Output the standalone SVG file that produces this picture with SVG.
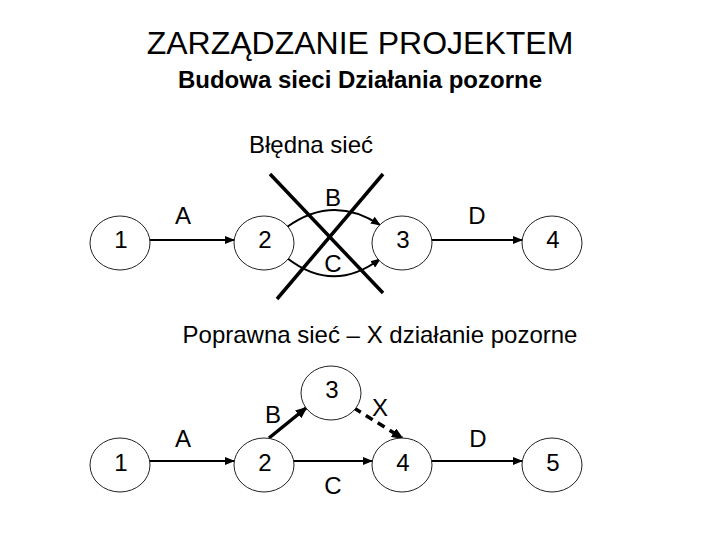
<svg xmlns="http://www.w3.org/2000/svg" width="720" height="540" viewBox="0 0 720 540">
<style>
text{font-family:"Liberation Sans",Arial,sans-serif;fill:#000;text-anchor:middle;font-size:24px}
.title{font-size:32px}
.sub{font-weight:bold}
.node ellipse{fill:#fff;stroke:#222;stroke-width:1}
.edge{fill:none;stroke:#000;stroke-width:2}
.thick{fill:none;stroke:#000;stroke-width:3.5}
.dash{fill:none;stroke:#000;stroke-width:3.5;stroke-dasharray:8 6}
.cross{fill:none;stroke:#000;stroke-width:3.5}
</style>
<defs>
<marker id="ah" markerUnits="userSpaceOnUse" markerWidth="10" markerHeight="8" refX="9" refY="4" orient="auto">
<path d="M0,0 L10,4 L0,8 Z" fill="#000"/>
</marker>
<marker id="ahb" markerUnits="userSpaceOnUse" markerWidth="12" markerHeight="10" refX="10" refY="5" orient="auto">
<path d="M0,0 L12,5 L0,10 Z" fill="#000"/>
</marker>
</defs>
<rect width="720" height="540" fill="#fff"/>
<text class="title" x="360" y="54">ZARZĄDZANIE PROJEKTEM</text>
<text class="sub" x="360" y="88">Budowa sieci Działania pozorne</text>
<text x="311" y="153">Błędna sieć</text>
<text x="380" y="343">Poprawna sieć – X działanie pozorne</text>

<g id="connectors">
<line class="edge" x1="150" y1="240" x2="234" y2="240" marker-end="url(#ah)"/>
<path class="edge" d="M287 227 Q333 194 380 225" marker-end="url(#ah)"/>
<path class="edge" d="M287 258 Q333 294 380 259" marker-end="url(#ah)"/>
<line class="edge" x1="432" y1="240" x2="522" y2="240" marker-end="url(#ah)"/>
<line class="edge" x1="150" y1="461" x2="234" y2="461" marker-end="url(#ah)"/>
<line class="edge" x1="294" y1="461" x2="372" y2="461" marker-end="url(#ah)"/>
<line class="edge" x1="432" y1="461" x2="522" y2="461" marker-end="url(#ah)"/>
<line class="thick" x1="269" y1="438" x2="306" y2="408" marker-end="url(#ahb)"/>
<line class="dash" x1="354" y1="408" x2="402" y2="438" marker-end="url(#ahb)"/>
</g>

<g id="labels">
<text x="183" y="224">A</text>
<text x="333" y="206">B</text>
<text x="333" y="272">C</text>
<text x="477" y="224">D</text>
<text x="183" y="447">A</text>
<text x="273" y="423">B</text>
<text x="380" y="416">X</text>
<text x="333" y="494">C</text>
<text x="478" y="447">D</text>
</g>

<g id="top-1" class="node"><ellipse cx="120" cy="243" rx="30" ry="27"/><text x="121" y="248">1</text></g>
<g id="top-2" class="node"><ellipse cx="264" cy="243" rx="30" ry="27"/><text x="265" y="248">2</text></g>
<g id="top-3" class="node"><ellipse cx="402" cy="243" rx="30" ry="27"/><text x="403" y="248">3</text></g>
<g id="top-4" class="node"><ellipse cx="552" cy="243" rx="30" ry="27"/><text x="553" y="248">4</text></g>

<g id="cross">
<line class="cross" x1="270" y1="174" x2="383" y2="293"/>
<line class="cross" x1="277" y1="299" x2="383" y2="174"/>
</g>

<g id="bot-1" class="node"><ellipse cx="120" cy="465" rx="30" ry="27"/><text x="121" y="471">1</text></g>
<g id="bot-2" class="node"><ellipse cx="264" cy="465" rx="30" ry="27"/><text x="265" y="471">2</text></g>
<g id="bot-3" class="node"><ellipse cx="331" cy="393" rx="30" ry="27"/><text x="332" y="398">3</text></g>
<g id="bot-4" class="node"><ellipse cx="402" cy="465" rx="30" ry="27"/><text x="403" y="471">4</text></g>
<g id="bot-5" class="node"><ellipse cx="552" cy="465" rx="30" ry="27"/><text x="553" y="471">5</text></g>
</svg>
